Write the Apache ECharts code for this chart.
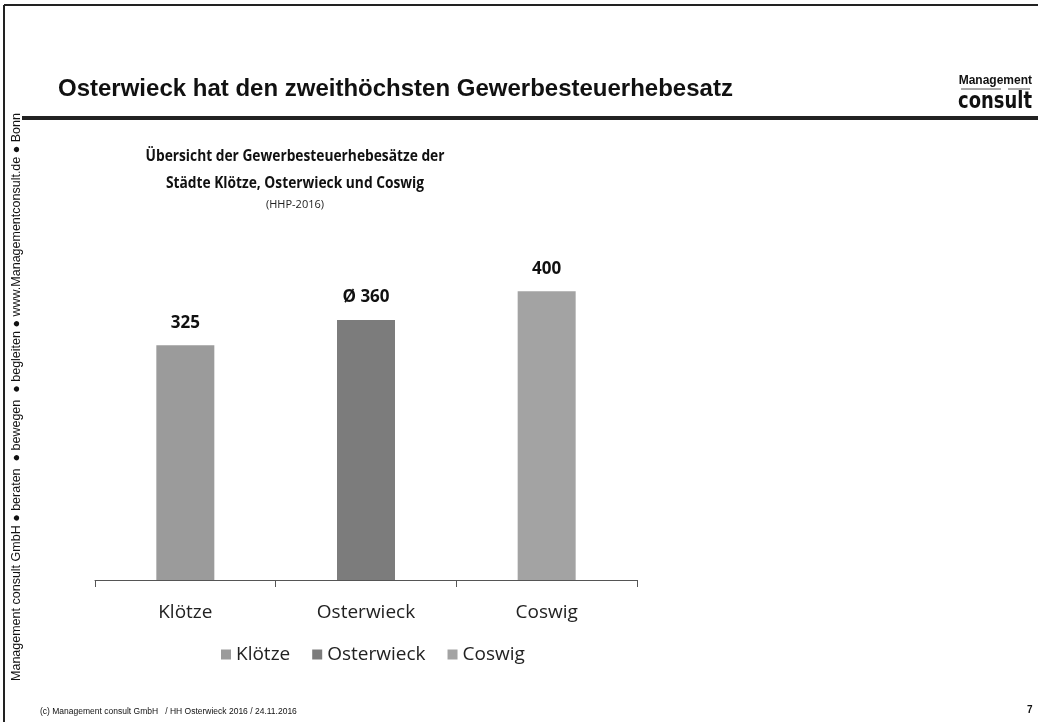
<!DOCTYPE html>
<html>
<head>
<meta charset="utf-8">
<script src="https://cdn.jsdelivr.net/npm/echarts@6/dist/echarts.min.js"></script>
<style>
  html, body { margin: 0; padding: 0; background: #fff; }
  #chart { width: 1038px; height: 722px; }
</style>
</head>
<body>
<div id="chart"></div>
<script>
  // Daten
  var staedte = ['Klötze', 'Osterwieck', 'Coswig'];
  var hebesaetze = [325, 360, 400];
  var wertLabels = ['325', 'Ø 360', '400'];
  var farben = ['#9b9b9b', '#7c7c7c', '#a3a3a3'];

  var chart = echarts.init(document.getElementById('chart'));

  // pro Stadt eine Serie, damit die Legende drei Einträge hat
  var serien = staedte.map(function (name, i) {
    var werte = staedte.map(function (_, j) { return j === i ? hebesaetze[i] : null; });
    return {
      name: name,
      type: 'bar',
      stack: 'hebesatz',
      barWidth: 58,
      itemStyle: { color: farben[i] },
      label: {
        show: true,
        position: 'top',
        distance: 14,
        fontFamily: 'Open Sans',
        fontWeight: 'bold',
        fontSize: 17,
        color: '#111',
        formatter: function () { return wertLabels[i]; }
      },
      data: werte
    };
  });

  var option = {
    animation: false,
    backgroundColor: '#fff',
    textStyle: { fontFamily: 'Open Sans' },
    grid: { left: 95, right: 401, top: 219, bottom: 142 },
    legend: {
      data: staedte,
      left: 216,
      top: 640,
      itemWidth: 10,
      itemHeight: 10,
      itemGap: 22,
      icon: 'rect',
      textStyle: { fontSize: 19, color: '#222', fontFamily: 'Open Sans' }
    },
    xAxis: {
      type: 'category',
      data: staedte,
      axisLine: { lineStyle: { color: '#555', width: 1 } },
      axisTick: { show: true, length: 7, interval: 0, lineStyle: { color: '#555' } },
      axisLabel: { fontSize: 19, color: '#222', margin: 23, fontFamily: 'Open Sans' }
    },
    yAxis: {
      type: 'value',
      min: 0,
      max: 500,
      show: false,
      splitLine: { show: false }
    },
    series: serien,
    graphic: [
      // Rahmen
      { type: 'line', shape: { x1: 4, y1: 5, x2: 1038, y2: 5 }, style: { stroke: '#222', lineWidth: 2 } },
      { type: 'line', shape: { x1: 4, y1: 5, x2: 4, y2: 722 }, style: { stroke: '#222', lineWidth: 2 } },
      { type: 'rect', shape: { x: 22, y: 116, width: 1016, height: 4 }, style: { fill: '#222' } },
      // Kopfzeile
      { type: 'text', left: 58, top: 77, style: { text: 'Osterwieck hat den zweithöchsten Gewerbesteuerhebesatz', font: 'bold 24px "Liberation Sans", Arial', fill: '#111' } },
      { type: 'text', x: 1032, y: 75, style: { text: 'Management', font: 'bold 12px "Liberation Sans", Arial', fill: '#111', textAlign: 'right' } },
      { type: 'line', shape: { x1: 961, y1: 89, x2: 1001, y2: 89 }, style: { stroke: '#555', lineWidth: 1 } },
      { type: 'line', shape: { x1: 1008, y1: 89, x2: 1030, y2: 89 }, style: { stroke: '#555', lineWidth: 1 } },
      { type: 'text', x: 1032, y: 91, scaleX: 0.78, style: { text: 'consult', font: 'bold 23px "DejaVu Sans"', fill: '#111', textAlign: 'right' } },
      // Diagrammtitel
      { type: 'text', x: 295, y: 148, scaleX: 0.86, style: { text: 'Übersicht der Gewerbesteuerhebesätze der', font: 'bold 16px "Open Sans"', fill: '#111', textAlign: 'center' } },
      { type: 'text', x: 295, y: 175, scaleX: 0.86, style: { text: 'Städte Klötze, Osterwieck und Coswig', font: 'bold 16px "Open Sans"', fill: '#111', textAlign: 'center' } },
      { type: 'text', x: 295, y: 199, style: { text: '(HHP-2016)', font: '11px "Open Sans"', fill: '#222', textAlign: 'center' } },
      // Seitenleiste
      { type: 'text', x: 17, y: 397, rotation: Math.PI / 2, style: { text: 'Management consult GmbH ● beraten  ● bewegen  ● begleiten ● www.Managementconsult.de ● Bonn', font: '12.5px "Liberation Sans", Arial', fill: '#111', textAlign: 'center', textVerticalAlign: 'middle' } },
      // Fusszeile
      { type: 'text', left: 40, top: 707, style: { text: '(c) Management consult GmbH   / HH Osterwieck 2016 / 24.11.2016', font: '8.5px "Liberation Sans", Arial', fill: '#111' } },
      { type: 'text', left: 1027, top: 705, style: { text: '7', font: 'bold 10px "Liberation Sans", Arial', fill: '#111' } }
    ]
  };

  chart.setOption(option);
</script>
</body>
</html>
